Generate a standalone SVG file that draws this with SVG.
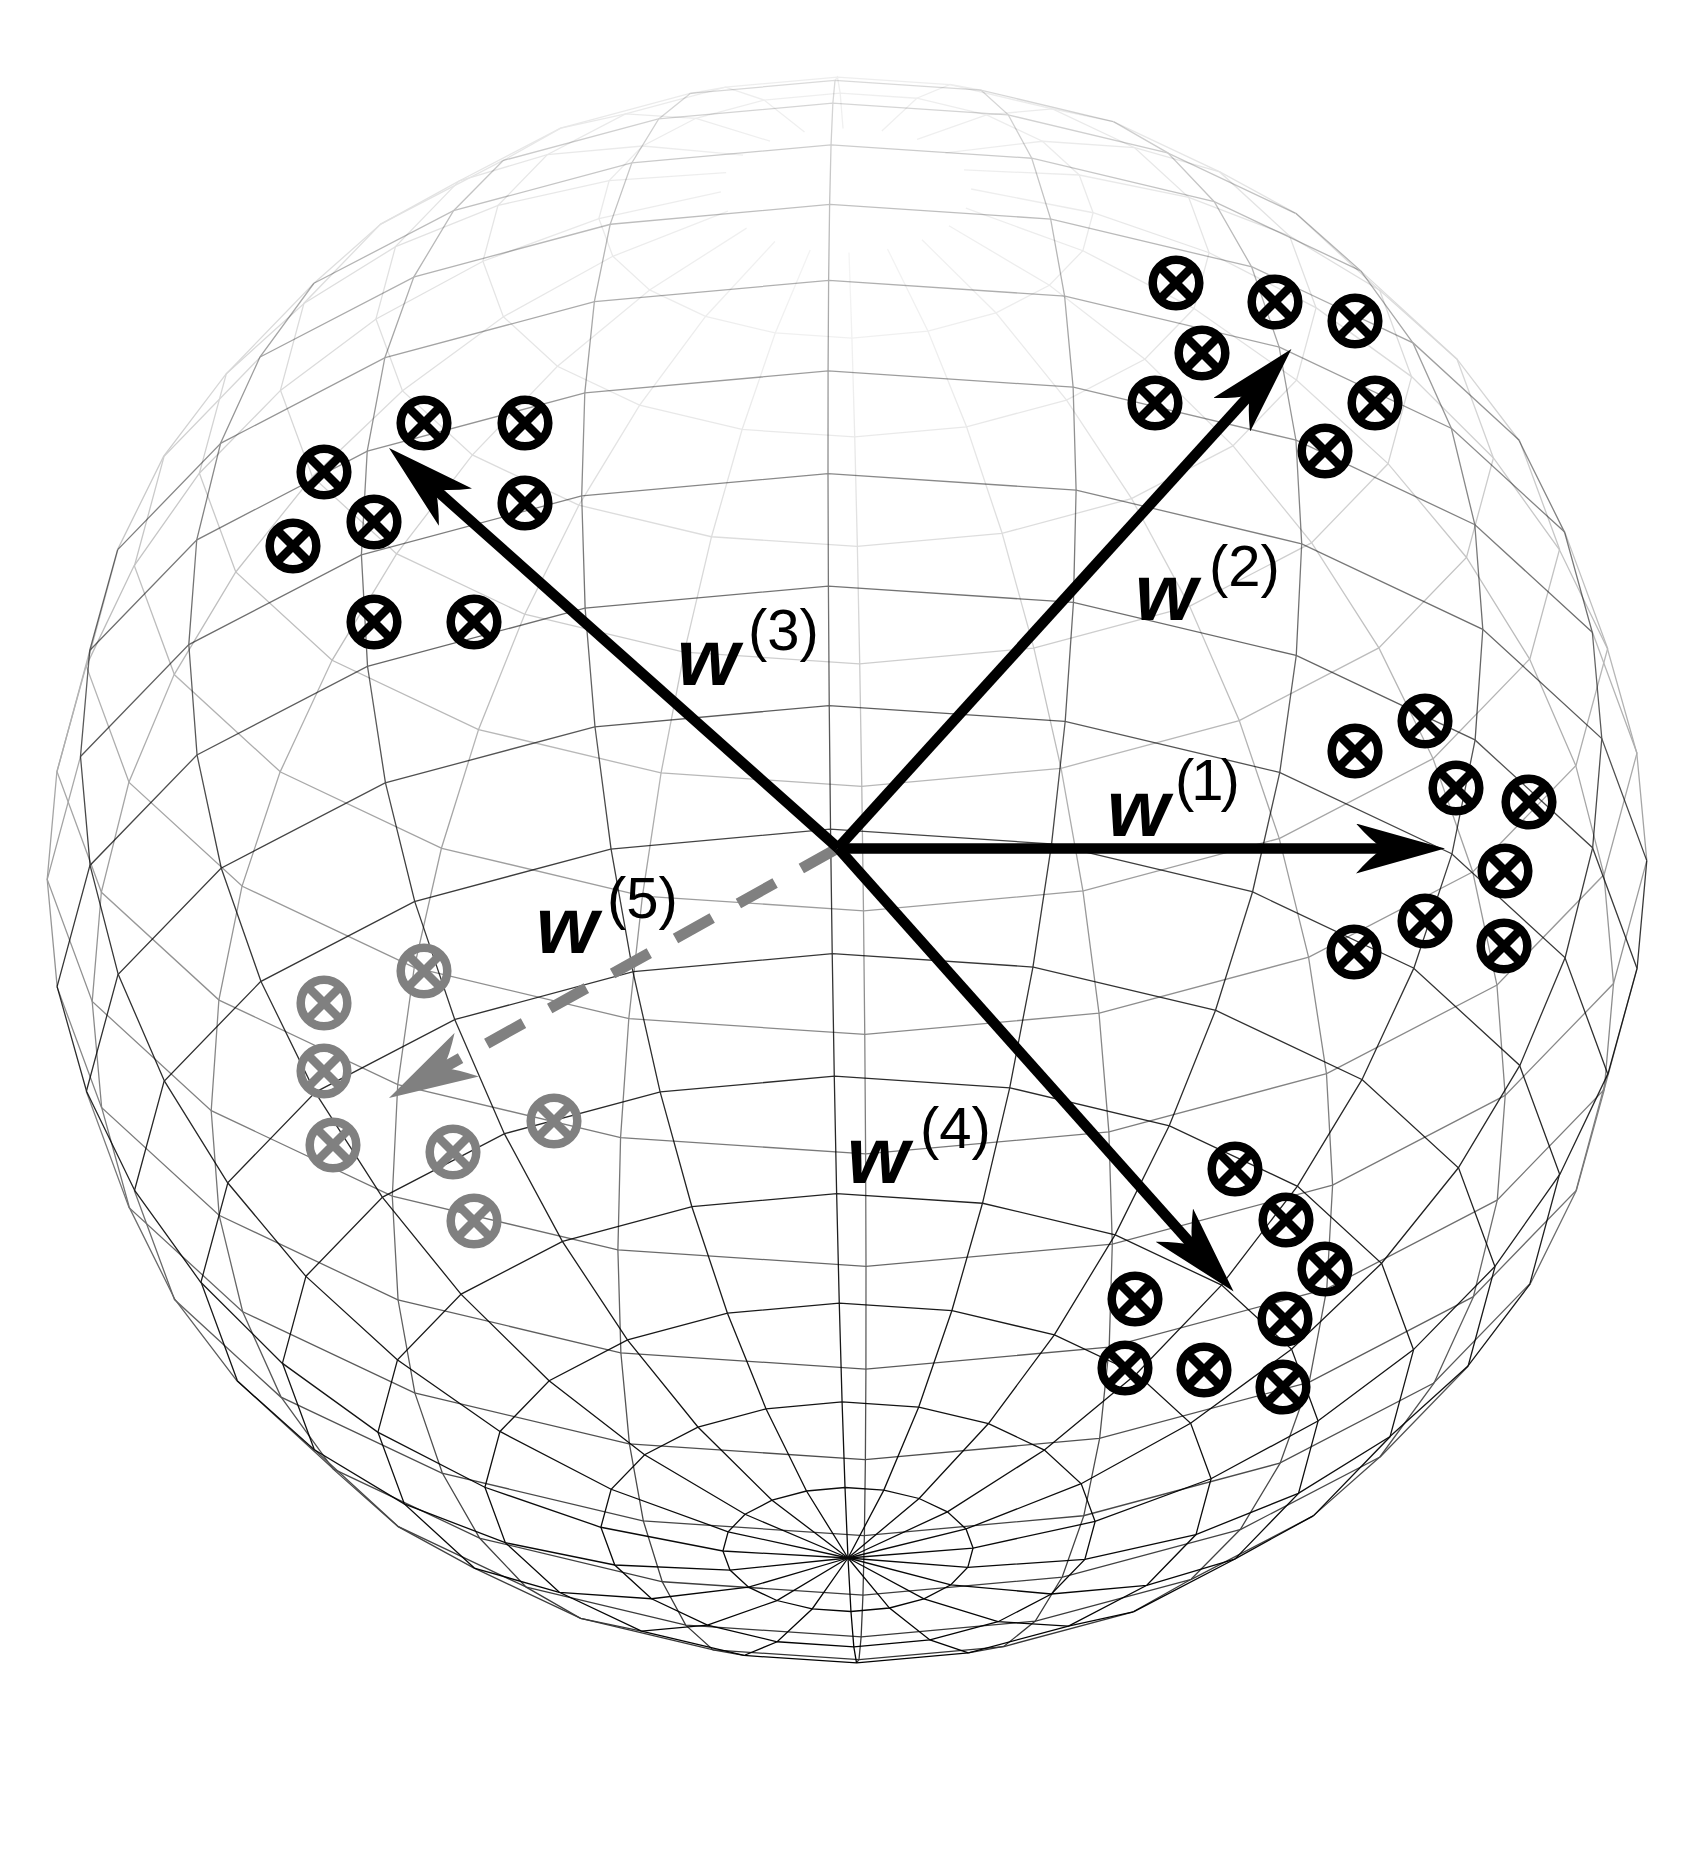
<svg xmlns="http://www.w3.org/2000/svg" xmlns:xlink="http://www.w3.org/1999/xlink" width="1700" height="1853" viewBox="0 0 1700 1853">
<style>
polyline{fill:none;vector-effect:non-scaling-stroke}
.wire{fill:none;stroke:#000;stroke-width:1.3}
.pts{fill:none;stroke:#000;stroke-width:8.5}
.pts.g{stroke:#808080}
.pts path{stroke-width:7}
.w{font:italic bold 80px "Liberation Sans",Arial,sans-serif;fill:#000}
.s{font:normal 400 58px "Liberation Sans",Arial,sans-serif}
.ar{fill:none;stroke:#000;stroke-width:10.5}
</style>
<defs>
<linearGradient id="gf" gradientUnits="userSpaceOnUse" x1="0" y1="77" x2="0" y2="1663">
<stop offset="0" stop-color="#fff" stop-opacity=".14"/><stop offset=".2" stop-color="#fff" stop-opacity=".4"/><stop offset=".5" stop-color="#fff" stop-opacity=".76"/><stop offset=".71" stop-color="#fff" stop-opacity=".87"/><stop offset="1" stop-color="#fff" stop-opacity="1"/>
</linearGradient>
<linearGradient id="gb" gradientUnits="userSpaceOnUse" x1="0" y1="77" x2="0" y2="1663">
<stop offset="0" stop-color="#fff" stop-opacity=".15"/><stop offset=".2" stop-color="#fff" stop-opacity=".17"/><stop offset=".33" stop-color="#fff" stop-opacity=".25"/><stop offset=".5" stop-color="#fff" stop-opacity=".38"/><stop offset=".65" stop-color="#fff" stop-opacity=".5"/><stop offset=".81" stop-color="#fff" stop-opacity=".65"/><stop offset="1" stop-color="#fff" stop-opacity=".8"/>
</linearGradient>
<radialGradient id="gd" gradientUnits="userSpaceOnUse" cx="847" cy="250" r="700">
<stop offset="0" stop-color="#000" stop-opacity=".75"/><stop offset="1" stop-color="#000" stop-opacity="0"/>
</radialGradient>
<mask id="mf" maskUnits="userSpaceOnUse" x="0" y="0" width="1700" height="1853"><rect width="1700" height="1853" fill="url(#gf)"/></mask>
<mask id="mb" maskUnits="userSpaceOnUse" x="0" y="0" width="1700" height="1853"><rect width="1700" height="1853" fill="url(#gb)"/><rect width="1700" height="1853" fill="url(#gd)"/></mask>
<marker id="hk" viewBox="0 -25 89 50" refX="40" refY="0" markerWidth="89" markerHeight="50" markerUnits="userSpaceOnUse" orient="auto"><path d="M89 0L0 -25Q15 -8 27 0Q15 8 0 25Z" fill="#000"/></marker>
<marker id="hg" viewBox="0 -25 89 50" refX="40" refY="0" markerWidth="89" markerHeight="50" markerUnits="userSpaceOnUse" orient="auto"><path d="M89 0L0 -25Q15 -8 27 0Q15 8 0 25Z" fill="#808080"/></marker>
<g id="pt"><circle r="23.3"/><path d="M-17 -17L17 17M17 -17L-17 17"/></g>
<!-- half meridian, front parts -->
<polyline id="f3" points="0 1 .1564 .9877 .309 .9511 .454 .891"/>
<polyline id="f4" points="0 1 .1564 .9877 .309 .9511 .454 .891 .5878 .809"/>
<polyline id="f5" points="0 1 .1564 .9877 .309 .9511 .454 .891 .5878 .809 .7071 .7071"/>
<polyline id="f6" points="0 1 .1564 .9877 .309 .9511 .454 .891 .5878 .809 .7071 .7071 .809 .5878"/>
<polyline id="f7" points="0 1 .1564 .9877 .309 .9511 .454 .891 .5878 .809 .7071 .7071 .809 .5878 .891 .454"/>
<polyline id="f9" points="0 1 .1564 .9877 .309 .9511 .454 .891 .5878 .809 .7071 .7071 .809 .5878 .891 .454 .9511 .309 .9877 .1564"/>
<polyline id="f10" points="0 1 .1564 .9877 .309 .9511 .454 .891 .5878 .809 .7071 .7071 .809 .5878 .891 .454 .9511 .309 .9877 .1564 1 0"/>
<polyline id="f12" points="0 1 .1564 .9877 .309 .9511 .454 .891 .5878 .809 .7071 .7071 .809 .5878 .891 .454 .9511 .309 .9877 .1564 1 0 .9877 -.1564 .9511 -.309"/>
<polyline id="f13" points="0 1 .1564 .9877 .309 .9511 .454 .891 .5878 .809 .7071 .7071 .809 .5878 .891 .454 .9511 .309 .9877 .1564 1 0 .9877 -.1564 .9511 -.309 .891 -.454"/>
<polyline id="f14" points="0 1 .1564 .9877 .309 .9511 .454 .891 .5878 .809 .7071 .7071 .809 .5878 .891 .454 .9511 .309 .9877 .1564 1 0 .9877 -.1564 .9511 -.309 .891 -.454 .809 -.5878"/>
<polyline id="f15" points="0 1 .1564 .9877 .309 .9511 .454 .891 .5878 .809 .7071 .7071 .809 .5878 .891 .454 .9511 .309 .9877 .1564 1 0 .9877 -.1564 .9511 -.309 .891 -.454 .809 -.5878 .7071 -.7071"/>
<polyline id="f16" points="0 1 .1564 .9877 .309 .9511 .454 .891 .5878 .809 .7071 .7071 .809 .5878 .891 .454 .9511 .309 .9877 .1564 1 0 .9877 -.1564 .9511 -.309 .891 -.454 .809 -.5878 .7071 -.7071 .5878 -.809"/>
<!-- half meridian, back parts -->
<polyline id="b3" points=".454 .891 .5878 .809 .7071 .7071 .809 .5878 .891 .454 .9511 .309 .9877 .1564 1 0 .9877 -.1564 .9511 -.309 .891 -.454 .809 -.5878 .7071 -.7071 .5878 -.809 .454 -.891 .309 -.9511 .1564 -.9877"/>
<polyline id="b4" points=".5878 .809 .7071 .7071 .809 .5878 .891 .454 .9511 .309 .9877 .1564 1 0 .9877 -.1564 .9511 -.309 .891 -.454 .809 -.5878 .7071 -.7071 .5878 -.809 .454 -.891 .309 -.9511 .1564 -.9877"/>
<polyline id="b5" points=".7071 .7071 .809 .5878 .891 .454 .9511 .309 .9877 .1564 1 0 .9877 -.1564 .9511 -.309 .891 -.454 .809 -.5878 .7071 -.7071 .5878 -.809 .454 -.891 .309 -.9511 .1564 -.9877"/>
<polyline id="b6" points=".809 .5878 .891 .454 .9511 .309 .9877 .1564 1 0 .9877 -.1564 .9511 -.309 .891 -.454 .809 -.5878 .7071 -.7071 .5878 -.809 .454 -.891 .309 -.9511 .1564 -.9877"/>
<polyline id="b7" points=".891 .454 .9511 .309 .9877 .1564 1 0 .9877 -.1564 .9511 -.309 .891 -.454 .809 -.5878 .7071 -.7071 .5878 -.809 .454 -.891 .309 -.9511 .1564 -.9877"/>
<polyline id="b9" points=".9877 .1564 1 0 .9877 -.1564 .9511 -.309 .891 -.454 .809 -.5878 .7071 -.7071 .5878 -.809 .454 -.891 .309 -.9511 .1564 -.9877"/>
<polyline id="b10" points="1 0 .9877 -.1564 .9511 -.309 .891 -.454 .809 -.5878 .7071 -.7071 .5878 -.809 .454 -.891 .309 -.9511 .1564 -.9877"/>
<polyline id="b12" points=".9511 -.309 .891 -.454 .809 -.5878 .7071 -.7071 .5878 -.809 .454 -.891 .309 -.9511 .1564 -.9877"/>
<polyline id="b13" points=".891 -.454 .809 -.5878 .7071 -.7071 .5878 -.809 .454 -.891 .309 -.9511 .1564 -.9877"/>
<polyline id="b14" points=".809 -.5878 .7071 -.7071 .5878 -.809 .454 -.891 .309 -.9511 .1564 -.9877"/>
<polyline id="b15" points=".7071 -.7071 .5878 -.809 .454 -.891 .309 -.9511 .1564 -.9877"/>
<polyline id="b16" points=".5878 -.809 .454 -.891 .309 -.9511 .1564 -.9877"/>
<!-- rings -->
<polyline id="rall" points="-.0237 -.9997 .2864 -.9581 .5684 -.8227 .7947 -.607 .9435 -.3316 .9997 -.0237 .9581 .2864 .8227 .5684 .607 .7947 .3316 .9435 .0237 .9997 -.2864 .9581 -.5684 .8227 -.7947 .607 -.9435 .3316 -.9997 .0237 -.9581 -.2864 -.8227 -.5684 -.607 -.7947 -.3316 -.9435 -.0237 -.9997"/>
<polyline id="rf13-8" points="-.7947 .607 -.9435 .3316 -.9997 .0237 -.9581 -.2864 -.8227 -.5684 -.607 -.7947 -.3316 -.9435 -.0237 -.9997 .2864 -.9581 .5684 -.8227 .7947 -.607 .9435 -.3316 .9997 -.0237 .9581 .2864 .8227 .5684 .607 .7947"/>
<polyline id="rb8-13" points=".607 .7947 .3316 .9435 .0237 .9997 -.2864 .9581 -.5684 .8227 -.7947 .607"/>
<polyline id="rf14-7" points="-.9435 .3316 -.9997 .0237 -.9581 -.2864 -.8227 -.5684 -.607 -.7947 -.3316 -.9435 -.0237 -.9997 .2864 -.9581 .5684 -.8227 .7947 -.607 .9435 -.3316 .9997 -.0237 .9581 .2864 .8227 .5684"/>
<polyline id="rb7-14" points=".8227 .5684 .607 .7947 .3316 .9435 .0237 .9997 -.2864 .9581 -.5684 .8227 -.7947 .607 -.9435 .3316"/>
<polyline id="rf14-6" points="-.9435 .3316 -.9997 .0237 -.9581 -.2864 -.8227 -.5684 -.607 -.7947 -.3316 -.9435 -.0237 -.9997 .2864 -.9581 .5684 -.8227 .7947 -.607 .9435 -.3316 .9997 -.0237 .9581 .2864"/>
<polyline id="rb6-14" points=".9581 .2864 .8227 .5684 .607 .7947 .3316 .9435 .0237 .9997 -.2864 .9581 -.5684 .8227 -.7947 .607 -.9435 .3316"/>
<polyline id="rf15-6" points="-.9997 .0237 -.9581 -.2864 -.8227 -.5684 -.607 -.7947 -.3316 -.9435 -.0237 -.9997 .2864 -.9581 .5684 -.8227 .7947 -.607 .9435 -.3316 .9997 -.0237 .9581 .2864"/>
<polyline id="rb6-15" points=".9581 .2864 .8227 .5684 .607 .7947 .3316 .9435 .0237 .9997 -.2864 .9581 -.5684 .8227 -.7947 .607 -.9435 .3316 -.9997 .0237"/>
<polyline id="rf15-5" points="-.9997 .0237 -.9581 -.2864 -.8227 -.5684 -.607 -.7947 -.3316 -.9435 -.0237 -.9997 .2864 -.9581 .5684 -.8227 .7947 -.607 .9435 -.3316 .9997 -.0237"/>
<polyline id="rb5-15" points=".9997 -.0237 .9581 .2864 .8227 .5684 .607 .7947 .3316 .9435 .0237 .9997 -.2864 .9581 -.5684 .8227 -.7947 .607 -.9435 .3316 -.9997 .0237"/>
<polyline id="rf16-5" points="-.9581 -.2864 -.8227 -.5684 -.607 -.7947 -.3316 -.9435 -.0237 -.9997 .2864 -.9581 .5684 -.8227 .7947 -.607 .9435 -.3316 .9997 -.0237"/>
<polyline id="rb5-16" points=".9997 -.0237 .9581 .2864 .8227 .5684 .607 .7947 .3316 .9435 .0237 .9997 -.2864 .9581 -.5684 .8227 -.7947 .607 -.9435 .3316 -.9997 .0237 -.9581 -.2864"/>
<polyline id="rf16-4" points="-.9581 -.2864 -.8227 -.5684 -.607 -.7947 -.3316 -.9435 -.0237 -.9997 .2864 -.9581 .5684 -.8227 .7947 -.607 .9435 -.3316"/>
<polyline id="rb4-16" points=".9435 -.3316 .9997 -.0237 .9581 .2864 .8227 .5684 .607 .7947 .3316 .9435 .0237 .9997 -.2864 .9581 -.5684 .8227 -.7947 .607 -.9435 .3316 -.9997 .0237 -.9581 -.2864"/>
<polyline id="rf17-4" points="-.8227 -.5684 -.607 -.7947 -.3316 -.9435 -.0237 -.9997 .2864 -.9581 .5684 -.8227 .7947 -.607 .9435 -.3316"/>
<polyline id="rb4-17" points=".9435 -.3316 .9997 -.0237 .9581 .2864 .8227 .5684 .607 .7947 .3316 .9435 .0237 .9997 -.2864 .9581 -.5684 .8227 -.7947 .607 -.9435 .3316 -.9997 .0237 -.9581 -.2864 -.8227 -.5684"/>
<polyline id="rf17-3" points="-.8227 -.5684 -.607 -.7947 -.3316 -.9435 -.0237 -.9997 .2864 -.9581 .5684 -.8227 .7947 -.607"/>
<polyline id="rb3-17" points=".7947 -.607 .9435 -.3316 .9997 -.0237 .9581 .2864 .8227 .5684 .607 .7947 .3316 .9435 .0237 .9997 -.2864 .9581 -.5684 .8227 -.7947 .607 -.9435 .3316 -.9997 .0237 -.9581 -.2864 -.8227 -.5684"/>
<polyline id="rf18-3" points="-.607 -.7947 -.3316 -.9435 -.0237 -.9997 .2864 -.9581 .5684 -.8227 .7947 -.607"/>
<polyline id="rb3-18" points=".7947 -.607 .9435 -.3316 .9997 -.0237 .9581 .2864 .8227 .5684 .607 .7947 .3316 .9435 .0237 .9997 -.2864 .9581 -.5684 .8227 -.7947 .607 -.9435 .3316 -.9997 .0237 -.9581 -.2864 -.8227 -.5684 -.607 -.7947"/>
<polyline id="rf19-2" points="-.3316 -.9435 -.0237 -.9997 .2864 -.9581 .5684 -.8227"/>
<polyline id="rb2-19" points=".5684 -.8227 .7947 -.607 .9435 -.3316 .9997 -.0237 .9581 .2864 .8227 .5684 .607 .7947 .3316 .9435 .0237 .9997 -.2864 .9581 -.5684 .8227 -.7947 .607 -.9435 .3316 -.9997 .0237 -.9581 -.2864 -.8227 -.5684 -.607 -.7947 -.3316 -.9435"/>
</defs>
<rect width="1700" height="1853" fill="#fff"/>
<g id="sphere-back" class="wire" mask="url(#mb)">
<use href="#b16" transform="matrix(-19 -396.4 1 688 847 870)"/>
<use href="#b16" transform="matrix(229.1 -379.9 1 688 847 870)"/>
<use href="#b16" transform="matrix(454.7 -326.2 1 688 847 870)"/>
<use href="#b15" transform="matrix(635.8 -240.7 1 688 847 870)"/>
<use href="#b13" transform="matrix(754.8 -131.5 1 688 847 870)"/>
<use href="#b10" transform="matrix(799.8 -9.4 1 688 847 870)"/>
<use href="#b7" transform="matrix(766.5 113.6 1 688 847 870)"/>
<use href="#b5" transform="matrix(658.2 225.4 1 688 847 870)"/>
<use href="#b4" transform="matrix(485.6 315.1 1 688 847 870)"/>
<use href="#b3" transform="matrix(265.3 374.1 1 688 847 870)"/>
<use href="#b3" transform="matrix(19 396.4 1 688 847 870)"/>
<use href="#b3" transform="matrix(-229.1 379.9 1 688 847 870)"/>
<use href="#b3" transform="matrix(-454.7 326.2 1 688 847 870)"/>
<use href="#b4" transform="matrix(-635.8 240.7 1 688 847 870)"/>
<use href="#b6" transform="matrix(-754.8 131.5 1 688 847 870)"/>
<use href="#b9" transform="matrix(-799.8 9.4 1 688 847 870)"/>
<use href="#b12" transform="matrix(-766.5 -113.6 1 688 847 870)"/>
<use href="#b14" transform="matrix(-658.2 -225.4 1 688 847 870)"/>
<use href="#b15" transform="matrix(-485.6 -315.1 1 688 847 870)"/>
<use href="#b16" transform="matrix(-265.3 -374.1 1 688 847 870)"/>
<use href="#rb8-13" transform="matrix(470.2 0 0 233.1 848 1426.6)"/>
<use href="#rb7-14" transform="matrix(565.7 0 0 280.4 848 1356.5)"/>
<use href="#rb6-14" transform="matrix(647.2 0 0 320.8 848 1274.4)"/>
<use href="#rb6-15" transform="matrix(712.8 0 0 353.3 847 1182.4)"/>
<use href="#rb5-15" transform="matrix(760.9 0 0 377.1 847 1082.6)"/>
<use href="#rb5-15" transform="matrix(790.2 0 0 391.6 847 977.6)"/>
<use href="#rb5-16" transform="matrix(800 0 0 396.5 847 870)"/>
<use href="#rb4-16" transform="matrix(790.2 0 0 391.6 847 762.4)"/>
<use href="#rb4-16" transform="matrix(760.9 0 0 377.1 847 657.4)"/>
<use href="#rb4-17" transform="matrix(712.8 0 0 353.3 847 557.6)"/>
<use href="#rb3-17" transform="matrix(647.2 0 0 320.8 846.4 465.6)"/>
<use href="#rb3-18" transform="matrix(565.7 0 0 280.4 846 383.5)"/>
<use href="#rb2-19" transform="matrix(470.2 0 0 233.1 846 313.4)"/>
<use href="#rall" transform="matrix(363.2 0 0 180 846 257)"/>
<use href="#rall" transform="matrix(247.2 0 0 122.5 846 215.6)"/>
</g>
<g id="sphere-front" class="wire" mask="url(#mf)">
<use href="#f16" transform="matrix(-19 -396.4 1 688 847 870)"/>
<use href="#f16" transform="matrix(229.1 -379.9 1 688 847 870)"/>
<use href="#f16" transform="matrix(454.7 -326.2 1 688 847 870)"/>
<use href="#f15" transform="matrix(635.8 -240.7 1 688 847 870)"/>
<use href="#f13" transform="matrix(754.8 -131.5 1 688 847 870)"/>
<use href="#f10" transform="matrix(799.8 -9.4 1 688 847 870)"/>
<use href="#f7" transform="matrix(766.5 113.6 1 688 847 870)"/>
<use href="#f5" transform="matrix(658.2 225.4 1 688 847 870)"/>
<use href="#f4" transform="matrix(485.6 315.1 1 688 847 870)"/>
<use href="#f3" transform="matrix(265.3 374.1 1 688 847 870)"/>
<use href="#f3" transform="matrix(19 396.4 1 688 847 870)"/>
<use href="#f3" transform="matrix(-229.1 379.9 1 688 847 870)"/>
<use href="#f3" transform="matrix(-454.7 326.2 1 688 847 870)"/>
<use href="#f4" transform="matrix(-635.8 240.7 1 688 847 870)"/>
<use href="#f6" transform="matrix(-754.8 131.5 1 688 847 870)"/>
<use href="#f9" transform="matrix(-799.8 9.4 1 688 847 870)"/>
<use href="#f12" transform="matrix(-766.5 -113.6 1 688 847 870)"/>
<use href="#f14" transform="matrix(-658.2 -225.4 1 688 847 870)"/>
<use href="#f15" transform="matrix(-485.6 -315.1 1 688 847 870)"/>
<use href="#f16" transform="matrix(-265.3 -374.1 1 688 847 870)"/>
<use href="#rall" transform="matrix(125.1 0 0 62 848 1549.5)"/>
<use href="#rall" transform="matrix(247.2 0 0 122.5 848 1524.4)"/>
<use href="#rall" transform="matrix(363.2 0 0 180 848 1483)"/>
<use href="#rf13-8" transform="matrix(470.2 0 0 233.1 848 1426.6)"/>
<use href="#rf14-7" transform="matrix(565.7 0 0 280.4 848 1356.5)"/>
<use href="#rf14-6" transform="matrix(647.2 0 0 320.8 848 1274.4)"/>
<use href="#rf15-6" transform="matrix(712.8 0 0 353.3 847 1182.4)"/>
<use href="#rf15-5" transform="matrix(760.9 0 0 377.1 847 1082.6)"/>
<use href="#rf15-5" transform="matrix(790.2 0 0 391.6 847 977.6)"/>
<use href="#rf16-5" transform="matrix(800 0 0 396.5 847 870)"/>
<use href="#rf16-4" transform="matrix(790.2 0 0 391.6 847 762.4)"/>
<use href="#rf16-4" transform="matrix(760.9 0 0 377.1 847 657.4)"/>
<use href="#rf17-4" transform="matrix(712.8 0 0 353.3 847 557.6)"/>
<use href="#rf17-3" transform="matrix(647.2 0 0 320.8 846.4 465.6)"/>
<use href="#rf18-3" transform="matrix(565.7 0 0 280.4 846 383.5)"/>
<use href="#rf19-2" transform="matrix(470.2 0 0 233.1 846 313.4)"/>
</g>
<g id="cluster-1" class="pts">
<use href="#pt" x="1355" y="751"/><use href="#pt" x="1425" y="721"/><use href="#pt" x="1456" y="788"/><use href="#pt" x="1529" y="802"/><use href="#pt" x="1505" y="871"/><use href="#pt" x="1425" y="921"/><use href="#pt" x="1354" y="952"/><use href="#pt" x="1504" y="946"/>
</g>
<g id="cluster-2" class="pts">
<use href="#pt" x="1176" y="283"/><use href="#pt" x="1275" y="302"/><use href="#pt" x="1355" y="321"/><use href="#pt" x="1202" y="353"/><use href="#pt" x="1155" y="403"/><use href="#pt" x="1375" y="403"/><use href="#pt" x="1325" y="451"/>
</g>
<g id="cluster-3" class="pts">
<use href="#pt" x="424" y="423"/><use href="#pt" x="525" y="423"/><use href="#pt" x="324" y="472"/><use href="#pt" x="374" y="522"/><use href="#pt" x="525" y="503"/><use href="#pt" x="293" y="546"/><use href="#pt" x="374" y="622"/><use href="#pt" x="474" y="622"/>
</g>
<g id="cluster-4" class="pts">
<use href="#pt" x="1235" y="1169"/><use href="#pt" x="1286" y="1220"/><use href="#pt" x="1325" y="1269"/><use href="#pt" x="1285" y="1319"/><use href="#pt" x="1135" y="1299"/><use href="#pt" x="1125" y="1368"/><use href="#pt" x="1204" y="1370"/><use href="#pt" x="1283" y="1387"/>
</g>
<g id="cluster-5" class="pts g">
<use href="#pt" x="424" y="971"/><use href="#pt" x="324" y="1003"/><use href="#pt" x="324" y="1071"/><use href="#pt" x="333" y="1145"/><use href="#pt" x="453" y="1152"/><use href="#pt" x="554" y="1121"/><use href="#pt" x="474" y="1221"/>
</g>
<g id="connectors">
<path d="M838 848L431.8 1074.2" fill="none" stroke="#808080" stroke-width="11" stroke-dasharray="42 30" marker-end="url(#hg)"/>
<path class="ar" d="M838 848.5L1396 848.5" marker-end="url(#hk)"/>
<path class="ar" d="M838 848L1258.5 385.3" marker-end="url(#hk)"/>
<path class="ar" d="M838 848L425.6 480.6" marker-end="url(#hk)"/>
<path class="ar" d="M838 848L1201 1255" marker-end="url(#hk)"/>
</g>
<g id="labels">
<text class="w" x="1107" y="836">w<tspan class="s" x="1175" y="800" letter-spacing="-3">(1)</tspan></text>
<text class="w" x="1135" y="620">w<tspan class="s" x="1209" y="586">(2)</tspan></text>
<text class="w" x="677" y="685">w<tspan class="s" x="748" y="650">(3)</tspan></text>
<text class="w" x="847" y="1183">w<tspan class="s" x="920" y="1148">(4)</tspan></text>
<text class="w" x="536" y="953">w<tspan class="s" x="607" y="918">(5)</tspan></text>
</g>
</svg>
